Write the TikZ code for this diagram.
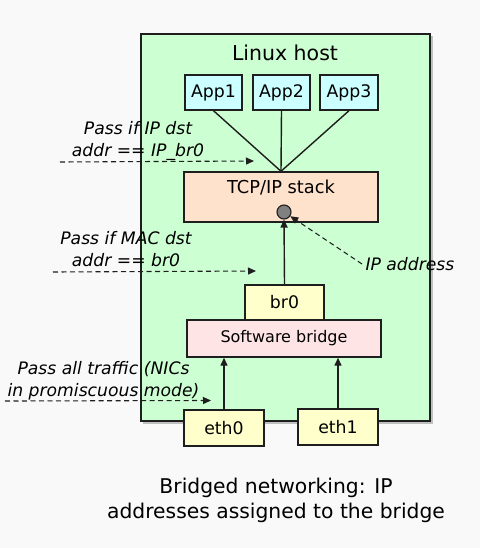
\documentclass[tikz,border=0pt]{standalone}
\usepackage{fontspec}
\setmainfont{DejaVu Sans}
\usetikzlibrary{arrows.meta}
\definecolor{bgc}{RGB}{249,249,249}
\definecolor{hostc}{RGB}{204,255,210}
\definecolor{appc}{RGB}{204,255,255}
\definecolor{tcpc}{RGB}{255,226,204}
\definecolor{yelc}{RGB}{255,255,204}
\definecolor{brgc}{RGB}{255,228,230}
\definecolor{edgec}{RGB}{30,30,30}
\tikzset{
  box/.style={draw=edgec, line width=1.4pt, inner sep=0pt, font=\fontsize{17.3}{20}\selectfont},
  conn/.style={draw=edgec, line width=1.4pt},
  arr/.style={conn, -{Triangle[length=8pt,width=7pt]}},
  darr/.style={draw=edgec, line width=1.1pt, dash pattern=on 5pt off 3.5pt, -{Triangle[length=8pt,width=7pt]}},
  note/.style={font=\fontsize{17.2}{22}\selectfont\itshape, align=center, text=black},
}
\begin{document}
\begin{tikzpicture}[x=1pt,y=-1pt]
\useasboundingbox[fill=bgc] (0,0) rectangle (480,548);
% host shadow + host
\fill[black!25] (143,36) rectangle (433,424);
\node[box, fill=hostc, minimum width=289pt, minimum height=387pt] (host) at (285.5,227.5) {};
\node[font=\fontsize{20.5}{24}\selectfont] (hosttitle) at (285,53) {Linux host};
% apps
\node[box, fill=appc, minimum width=57pt, minimum height=35pt] (app1) at (213.5,92.5) {App1};
\node[box, fill=appc, minimum width=57pt, minimum height=35pt] (app2) at (281.5,92.5) {App2};
\node[box, fill=appc, minimum width=58pt, minimum height=35pt] (app3) at (349,92.5) {App3};
% tcp
\node[box, fill=tcpc, minimum width=194pt, minimum height=50pt] (tcp) at (281,197) {};
\node[font=\fontsize{17.8}{20}\selectfont] (tcplabel) at (281,188) {TCP/IP stack};
\node[circle, draw=edgec, line width=1.1pt, fill=black!50, minimum size=14pt, inner sep=0pt] (ip) at (284,212) {};
% br0 and bridge
\node[box, fill=yelc, minimum width=79pt, minimum height=35pt] (br0) at (284.5,302.5) {br0};
\node[box, fill=brgc, minimum width=194pt, minimum height=37pt, font=\fontsize{16}{19}\selectfont] (bridge) at (284,338.5) {Software bridge};
% eths
\node[box, fill=yelc, minimum width=80pt, minimum height=36pt] (eth0) at (224,428) {eth0};
\node[box, fill=yelc, minimum width=80pt, minimum height=36pt] (eth1) at (338,427) {eth1};
% connectors
\draw[conn] (app1.south) -- (tcp.north);
\draw[conn] (app2.south) -- (tcp.north);
\draw[conn] (app3.south) -- (tcp.north);
\draw[arr] (br0.north) -- (ip.south);
\draw[arr] (eth0.north) -- (eth0.north |- bridge.south);
\draw[arr] (eth1.north) -- (eth1.north |- bridge.south);
% IP address
\node[note, anchor=west] (iplab) at (362,264) {IP address};
\draw[darr] (iplab.west) -- (ip);
% notes
\node[note] (n1) at (138,141) {Pass if IP dst\\addr == IP\_br0};
\coordinate (a1s) at (60,162);
\coordinate (a1e) at (254,161);
\draw[darr] (a1s) -- (a1e);
\node[note] (n2) at (126,249) {Pass if MAC dst\\addr == br0};
\coordinate (a2s) at (53,272);
\coordinate (a2e) at (256,271);
\draw[darr] (a2s) -- (a2e);
\node[note] (n3) at (103.5,380.5) {Pass all traffic (NICs\\in promiscuous mode)};
\coordinate (a3s) at (5,401);
\coordinate (a3e) at (211,400.5);
\draw[darr] (a3s) -- (a3e);
% caption
\node[font=\fontsize{20.3}{25}\selectfont, align=center] (cap) at (276,500.5) {Bridged networking: IP\\addresses assigned to the bridge};
\end{tikzpicture}
\end{document}
